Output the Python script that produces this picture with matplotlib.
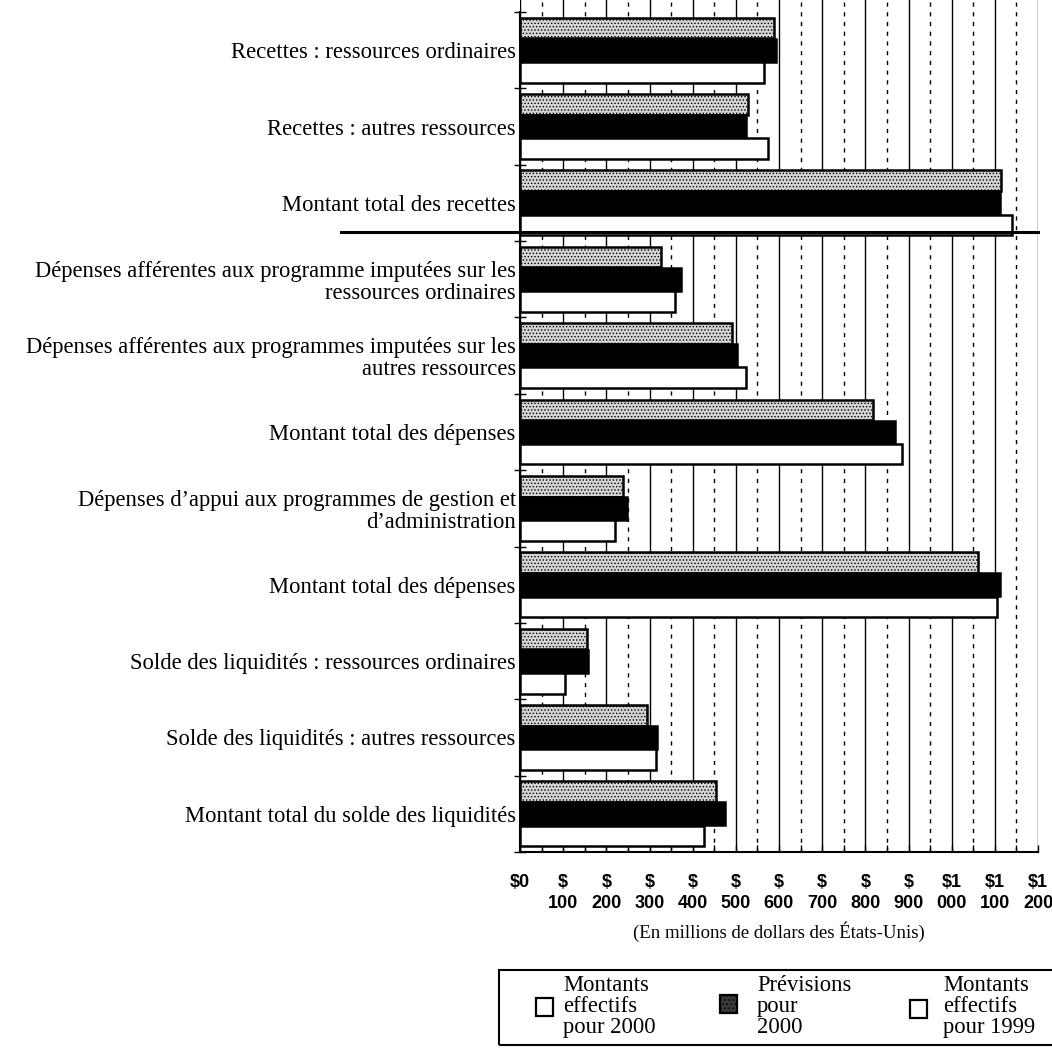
import matplotlib.pyplot as plt
from matplotlib.patches import Rectangle
from matplotlib.ticker import MultipleLocator

# libellés des postes (de haut en bas)
categories = [
    "Recettes : ressources ordinaires",
    "Recettes : autres ressources",
    "Montant total des recettes",
    "Dépenses afférentes aux programme imputées sur les\nressources ordinaires",
    "Dépenses afférentes aux programmes imputées sur les\nautres ressources",
    "Montant total des dépenses",
    "Dépenses d\u2019appui aux programmes de gestion et\nd\u2019administration",
    "Montant total des dépenses",
    "Solde des liquidités : ressources ordinaires",
    "Solde des liquidités : autres ressources",
    "Montant total du solde des liquidités",
]

# millions de dollars
effectifs_2000 = [588, 529, 1115, 326, 492, 818, 238, 1062, 155, 294, 453]
previsions_2000 = [593, 524, 1111, 372, 502, 868, 247, 1112, 157, 318, 476]
effectifs_1999 = [566, 574, 1139, 358, 524, 884, 221, 1105, 105, 316, 426]

tick_values = list(range(0, 1201, 100))
tick_labels = ["$0", "$\n100", "$\n200", "$\n300", "$\n400", "$\n500", "$\n600",
               "$\n700", "$\n800", "$\n900", "$1\n000", "$1\n100", "$1\n200"]

legend_labels = ["Montants\neffectifs\npour 2000", "Prévisions\npour\n2000",
                 "Montants\neffectifs\npour 1999"]

serif = "Liberation Serif"
narrow = ["Liberation Sans Narrow", "Liberation Sans"]
plt.rcParams['hatch.linewidth'] = 0.6

fig = plt.figure(figsize=(10.52, 10.49), dpi=100)
ax = fig.add_axes([520 / 1052, 1 - 852 / 1049, 518 / 1052, 852 / 1049])

y = list(range(len(categories)))
h = 0.27
ax.barh([v - 0.29 for v in y], effectifs_2000, height=h, color='#d4d4d4',
        edgecolor='black', linewidth=1.8, hatch='.....', zorder=3)
ax.barh(y, previsions_2000, height=h + 0.03, color='black',
        edgecolor='black', linewidth=1.8, zorder=3)
ax.barh([v + 0.29 for v in y], effectifs_1999, height=h, color='white',
        edgecolor='black', linewidth=1.8, zorder=3)

ax.set_xlim(0, 1200)
ax.set_ylim(10.5, -0.5 - 12 / 76.36)

# axe des montants
ax.set_xticks(tick_values)
ax.set_xticklabels(tick_labels, fontfamily=narrow, fontweight='bold',
                   fontsize=13, linespacing=1.3, va='top')
ax.xaxis.set_minor_locator(MultipleLocator(50))
ax.tick_params(axis='x', which='both', direction='in', length=5, width=1, pad=16)
ax.grid(axis='x', which='major', color='black', linewidth=1.0, zorder=1)
ax.grid(axis='x', which='minor', color='black', linewidth=1.0,
        linestyle=(0, (3, 4)), zorder=1)
ax.set_xlabel("(En millions de dollars des États-Unis)", fontfamily=serif,
              fontsize=13.5, labelpad=7)

# axe des postes : traits aux limites des groupes, libellés au centre
ax.set_yticks([v + 0.5 for v in [-1] + y])
ax.set_yticklabels([])
ax.set_yticks(y, minor=True)
ax.set_yticklabels(categories, minor=True, fontfamily=serif, fontsize=16.3,
                   linespacing=1.05)
ax.tick_params(axis='y', which='major', direction='inout', length=9, width=1)
ax.tick_params(axis='y', which='minor', length=0, pad=3)

for side in ['top', 'right']:
    ax.spines[side].set_visible(False)
ax.spines['left'].set_bounds(-0.5, 10.5)
ax.spines['left'].set_linewidth(1.5)
ax.spines['bottom'].set_linewidth(1.5)

# séparation recettes / dépenses
ax.plot([-0.346, 1.0], [2.38, 2.38], color='black', linewidth=2.2,
        transform=ax.get_yaxis_transform(), clip_on=False, zorder=4)

# légende
W, H = 1052, 1049
fig.patches.append(Rectangle((499 / W, 1 - 1045 / H), 600 / W, 75 / H,
                             transform=fig.transFigure, fill=False,
                             edgecolor='black', linewidth=1.5))
patch_styles = [dict(facecolor='white', hatch=None),
                dict(facecolor='#3a3a3a', hatch='....'),
                dict(facecolor='white', hatch=None)]
patch_x = [536, 720, 910]
patch_y = [998, 995, 1000]
text_x = [563, 757, 943]
for label, px, py, tx, st in zip(legend_labels, patch_x, patch_y, text_x, patch_styles):
    fig.patches.append(Rectangle((px / W, 1 - (py + 18) / H), 17 / W, 18 / H,
                                 transform=fig.transFigure, edgecolor='black',
                                 linewidth=1.6, **st))
    fig.text(tx / W, 1 - 975 / H, label, fontfamily=serif, fontsize=16.3,
             linespacing=1.0, va='top', ha='left')

fig.savefig('out.png', dpi=100)
